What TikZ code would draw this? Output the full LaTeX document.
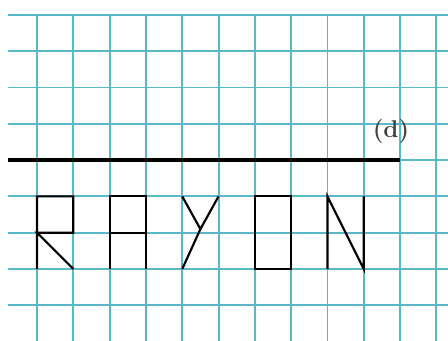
\documentclass[tikz,border=0pt]{standalone}
\usetikzlibrary{positioning}
\definecolor{gridcyan}{RGB}{90,185,198}

\begin{document}
\begin{tikzpicture}[
    gridline/.style={draw=gridcyan, line width=1.5pt},
    letter/.style={draw=black, line width=1.7pt, line join=miter},
    lbl/.style={font=\bfseries\fontsize{19}{19}\selectfont, text=black!75}
  ]
  \useasboundingbox (-1.02,0.41) rectangle (11.32,-8.97);
  \clip (-1.02,0.41) rectangle (11.32,-8.97);

  % squared paper
  \foreach \j in {0,...,9}
    \draw[gridline] (-0.8,-\j) -- (11.4,-\j);
  \foreach \i in {0,...,11}
    \draw[gridline] (\i,0) -- (\i,-9.2);

  % line (d)
  \coordinate (dstart) at (-0.8,-4);
  \coordinate (dend) at (10,-4);
  \draw[line width=3pt] (dstart) -- (dend);
  \node[lbl] (dlabel) at (9.75,-3.2) {(d)};

  % R A Y O N
  \draw[letter] (0,-7) -- (0,-5) -- (1,-5) -- (1,-6) -- (0,-6) -- (1,-7);
  \draw[letter] (2,-7) -- (2,-5) -- (3,-5) -- (3,-7);
  \draw[letter] (2,-6) -- (3,-6);
  \draw[letter] (4,-5) -- (4.5,-5.9) -- (5,-5);
  \draw[letter] (4.5,-5.9) -- (4,-7);
  \draw[letter] (6,-5) rectangle (7,-7);
  \draw[letter] (8,-7) -- (8,-5) -- (9,-7) -- (9,-5);
\end{tikzpicture}
\end{document}
